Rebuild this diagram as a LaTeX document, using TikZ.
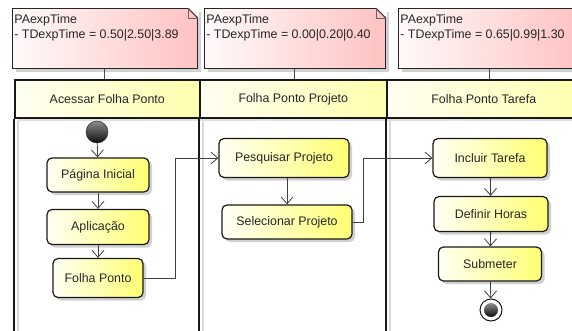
\documentclass[tikz,border=0pt]{standalone}
\usepackage{fontspec}
\setmainfont{Liberation Sans}
\usepackage{tikz}
\usetikzlibrary{shapes,arrows.meta,shadows,positioning}
\tikzstyle{notebox} = [draw=black!85, line width=0.8pt, left color=red!2, right color=red!24, anchor=north west, inner xsep=1pt, inner ysep=5pt, drop shadow={shadow xshift=4pt, shadow yshift=-4pt, fill=black!18, opacity=1}]
\tikzstyle{lanehead} = [draw=black!90, line width=1.6pt, left color=yellow!5, right color=yellow!32, anchor=north west, minimum height=38pt, inner sep=0pt, drop shadow={shadow xshift=3pt, shadow yshift=-3pt, fill=black!12, opacity=1}]
\tikzstyle{action} = [rectangle, rounded corners=5pt, draw=black!90, line width=1.2pt, left color=yellow!4, right color=yellow!55, inner sep=0pt, drop shadow={shadow xshift=3pt, shadow yshift=-3pt, fill=black!18, opacity=1}]
\tikzstyle{line} = [draw=black!75, line width=0.8pt, -{Straight Barb[length=7pt, width=12pt]}]
\tikzstyle{laneline} = [draw=black!90, line width=1.6pt]

\begin{document}
\begin{tikzpicture}[x=1pt, y=-1pt, font=\fontsize{12.4}{15}\selectfont, text=black!85]
        \clip (0,0) rectangle (572,331);
        \fill[white] (0,0) rectangle (572,331);

        % swimlanes
        \node (H1) [lanehead, minimum width=185pt] at (14,79) {Acessar Folha Ponto};
        \node (H2) [lanehead, minimum width=187pt] at (199,79) {Folha Ponto Projeto};
        \node (H3) [lanehead, minimum width=194pt] at (386,79) {Folha Ponto Tarefa};
        \foreach \h in {H1,H2,H3} {
            \draw[black!15, line width=1.5pt] ([xshift=4pt, yshift=-2pt]\h.south west) -- ++(0,230);
            \draw[laneline] (\h.south west) -- ++(0,230);
        }

        % notes
        \node (N1) [notebox, minimum width=185pt, minimum height=60pt] at (12,8) {\parbox[t][50pt][t]{181pt}{\strut PAexpTime\\- TDexpTime = 0.50|2.50|3.89}};
        \node (N2) [notebox, minimum width=181pt, minimum height=60pt] at (204,8) {\parbox[t][50pt][t]{177pt}{\strut PAexpTime\\- TDexpTime = 0.00|0.20|0.40}};
        \node (N3) [notebox, minimum width=183pt, minimum height=60pt] at (398,8) {\parbox[t][50pt][t]{179pt}{\strut PAexpTime\\- TDexpTime = 0.65|0.99|1.30}};
        \foreach \n in {N1,N2,N3} {
            \fill[white] ([xshift=-10pt, yshift=1pt]\n.north east) -- ([xshift=1pt, yshift=1pt]\n.north east) -- ([xshift=1pt, yshift=-10pt]\n.north east) -- cycle;
            \draw[black!85, line width=0.8pt] ([xshift=-10pt]\n.north east) -- ([yshift=-10pt]\n.north east);
            \draw[black!60, line width=0.6pt] ([xshift=-10pt]\n.north east) -- ([xshift=-10pt, yshift=-10pt]\n.north east) -- ([yshift=-10pt]\n.north east);
        }
        \draw[black!70, line width=1pt] (N1.south) -- (N1.south |- H1.north);
        \draw[black!70, line width=1pt] (N2.south) -- (N2.south |- H2.north);
        \draw[black!70, line width=1pt] (N3.south) -- (N3.south |- H3.north);

        % activities
        \node (Init) [circle, minimum size=22pt, inner sep=0pt, draw=black!90, top color=black!45, bottom color=black!95] at (97,132) {};
        \node (Pag) [action, minimum width=102pt, minimum height=34pt] at (98,175) {Página Inicial};
        \node (Apl) [action, minimum width=102pt, minimum height=35pt] at (98,227) {Aplicação};
        \node (Fol) [action, minimum width=90pt, minimum height=39pt] at (98,278) {Folha Ponto};
        \node (Pesq) [action, minimum width=130pt, minimum height=39pt] at (284,158) {Pesquisar Projeto};
        \node (Sel) [action, minimum width=130pt, minimum height=34pt] at (287,222) {Selecionar Projeto};
        \node (Inc) [action, minimum width=114pt, minimum height=39pt] at (490,158) {Incluir Tarefa};
        \node (Def) [action, minimum width=114pt, minimum height=35pt] at (491,214) {Definir Horas};
        \node (Sub) [action, minimum width=103pt, minimum height=34pt] at (490,264) {Submeter};
        \node (Fin) [circle, minimum size=22pt, inner sep=0pt, draw=black!90, line width=1pt, fill=white] at (491,310) {};
        \node (FinDot) [circle, minimum size=14pt, inner sep=0pt, top color=black!45, bottom color=black!95] at (Fin) {};

        % flows
        \path [line] (Init) -- (Pag);
        \path [line] (Pag) -- (Apl);
        \path [line] (Apl) -- (Fol);
        \path [line] (Fol.east) -- ++(32,0) |- (Pesq.west);
        \path [line] (Sel.north |- Pesq.south) -- (Sel.north);
        \path [line] (Sel.east) -- ++(11,0) |- (Inc.west);
        \path [line] (Inc) -- (Def);
        \path [line] (Def) -- (Sub);
        \path [line] (Sub) -- (Fin);
    \end{tikzpicture}
\end{document}
